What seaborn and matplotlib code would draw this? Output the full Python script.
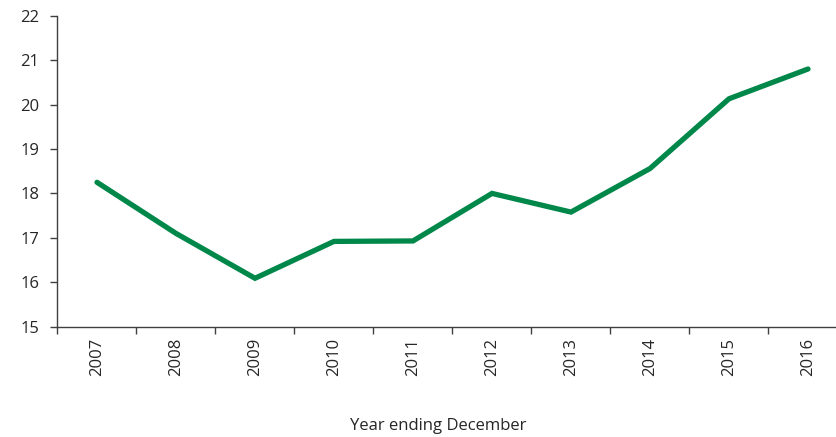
import pandas as pd
import matplotlib.pyplot as plt
import seaborn as sns
from matplotlib.ticker import FixedLocator

years = ["2007", "2008", "2009", "2010", "2011", "2012", "2013", "2014", "2015", "2016"]
values = [18.25, 17.1, 16.09, 16.92, 16.93, 18.0, 17.58, 18.56, 20.13, 20.8]

df = pd.DataFrame({"year": years, "value": values})

sns.set_style("white")
plt.rcParams["font.family"] = ["Open Sans", "DejaVu Sans"]

fig = plt.figure(figsize=(8.37, 4.37), dpi=100)
ax = fig.add_axes([57.5 / 837, (437 - 326.7) / 437, 790 / 837, 311 / 437])

sns.lineplot(x="year", y="value", data=df, ax=ax, color="#00874a", linewidth=3.8,
             solid_capstyle="round", solid_joinstyle="miter")

ax.set_xlim(-0.5, 9.5)
ax.set_ylim(15, 22)
ax.set_yticks(range(15, 23))
ax.set_xticks(range(len(years)))
ax.set_xticklabels(years, rotation=90, fontsize=12)
ax.tick_params(axis="x", which="major", length=0, pad=8)
ax.xaxis.set_minor_locator(FixedLocator([i - 0.5 for i in range(len(years) + 1)]))
ax.tick_params(axis="x", which="minor", length=5, width=1, color="#404040", direction="out", bottom=True)
ax.tick_params(axis="y", length=5, width=1, color="#404040", direction="out", left=True, labelsize=12, pad=8)

ax.set_xlabel("Year ending December", fontsize=12)
ax.xaxis.set_label_coords((438 - 57.5) / 790, -(418 - 326.7) / 311)
ax.set_ylabel("")

for s in ["top", "right"]:
    ax.spines[s].set_visible(False)
for s in ["left", "bottom"]:
    ax.spines[s].set_color("#404040")
    ax.spines[s].set_linewidth(1)

plt.savefig("out.png", dpi=100)
plt.close()
